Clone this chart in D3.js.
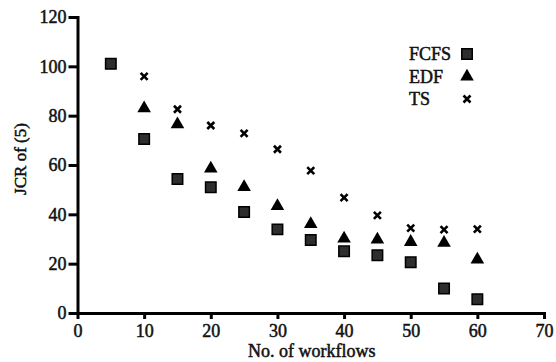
<!DOCTYPE html>
<html>
<head>
<meta charset="utf-8">
<script src="https://cdn.jsdelivr.net/npm/d3@7"></script>
<style>
  body { margin: 0; background: #fff; }
  svg { display: block; }
  .axis path, .axis line { stroke: #000; stroke-width: 3; }
</style>
</head>
<body>
<svg id="chart" width="556" height="362"></svg>
<script>
// workflow counts on the x axis
const workflows = [5, 10, 15, 20, 25, 30, 35, 40, 45, 50, 55, 60]
const fcfs = [101, 70.5, 54.3, 51, 40.9, 33.9, 29.6, 25, 23.4, 20.6, 9.9, 5.6]
const edf = [null, 83, 76.5, 58.5, 51, 43.3, 36, 30.2, 29.8, 28.8, 28.4, 21.7]
const ts = [null, 95.9, 82.6, 76, 72.8, 66.4, 57.7, 46.8, 39.6, 34.4, 33.8, 34]
const xTicks = [0, 10, 20, 30, 40, 50, 60, 70]
const yTicks = [0, 20, 40, 60, 80, 100, 120]
const legendItems = ["FCFS", "EDF", "TS"]

const FONT = "'Liberation Serif', 'Times New Roman', serif"
const width = 556
const height = 362
const margin = { top: 17, right: 12, bottom: 49, left: 77.5 }
const innerWidth = width - margin.left - margin.right
const innerHeight = height - margin.top - margin.bottom

const svg = d3.select("#chart")
const g = svg.append("g").attr("transform", `translate(${margin.left},${margin.top})`)

const x = d3.scaleLinear().domain([0, 70]).range([0, innerWidth])
const y = d3.scaleLinear().domain([0, 120]).range([innerHeight, 0])

g.append("g")
    .attr("class", "axis")
    .attr("transform", `translate(0,${innerHeight})`)
    .call(d3.axisBottom(x).tickValues(xTicks).tickSize(6).tickSizeOuter(0).tickPadding(5))

g.append("g")
    .attr("class", "axis")
    .call(d3.axisLeft(y).tickValues(yTicks).tickSize(9).tickSizeOuter(0).tickPadding(2))

svg.selectAll(".axis").attr("font-family", FONT).attr("font-size", 18)
svg.selectAll(".axis path").attr("stroke-linecap", "square")

function styleText(sel, size) {
    sel.attr("font-family", FONT)
        .attr("font-size", size)
        .attr("fill", "#111")
        .attr("stroke", "#111")
        .attr("stroke-width", 0.5)
}

svg.selectAll(".axis text").call(styleText, 18)

g.append("text")
    .attr("x", x(35) + 1)
    .attr("y", innerHeight + 44)
    .attr("text-anchor", "middle")
    .call(styleText, 18)
    .text("No. of workflows")

g.append("text")
    .attr("transform", "rotate(-90)")
    .attr("x", -(159 - margin.top))
    .attr("y", -margin.left + 26)
    .attr("text-anchor", "middle")
    .call(styleText, 17)
    .text("JCR of (5)")

// marker drawers
const square = d3.symbol().type(d3.symbolSquare).size(110)
const triangle = d3.symbol().type(d3.symbolTriangle).size(80)
function drawCross(sel) {
    sel.append("path")
        .attr("d", "M-3.5,-3.5L3.5,3.5M-3.5,3.5L3.5,-3.5")
        .attr("stroke", "#000")
        .attr("stroke-width", 2.6)
        .attr("fill", "none")
}

const pts = (vals) => workflows.map((w, i) => ({ w, v: vals[i] })).filter((d) => d.v != null)

g.append("g").selectAll("path")
    .data(pts(fcfs))
    .join("path")
    .attr("transform", (d) => `translate(${x(d.w)},${y(d.v)})`)
    .attr("d", square)
    .attr("fill", "#2e2e2e")
    .attr("stroke", "#000")
    .attr("stroke-width", 1.5)

g.append("g").selectAll("path")
    .data(pts(edf))
    .join("path")
    .attr("transform", (d) => `translate(${x(d.w)},${y(d.v)})`)
    .attr("d", triangle)
    .attr("fill", "#000")

g.append("g").selectAll("g")
    .data(pts(ts))
    .join("g")
    .attr("transform", (d) => `translate(${x(d.w)},${y(d.v)})`)
    .call(drawCross)

// legend
const legend = svg.append("g").attr("transform", "translate(409,60)")
legendItems.forEach((name, i) => {
    const row = legend.append("g").attr("transform", `translate(0,${i * 22.5})`)
    row.append("text").call(styleText, 18).text(name)
    const m = row.append("g").attr("transform", "translate(58,-6)")
    if (i === 0) m.append("path").attr("d", square).attr("fill", "#2e2e2e").attr("stroke", "#000").attr("stroke-width", 1.5)
    else if (i === 1) m.append("path").attr("d", triangle).attr("fill", "#000")
    else m.call(drawCross)
})
</script>
</body>
</html>
